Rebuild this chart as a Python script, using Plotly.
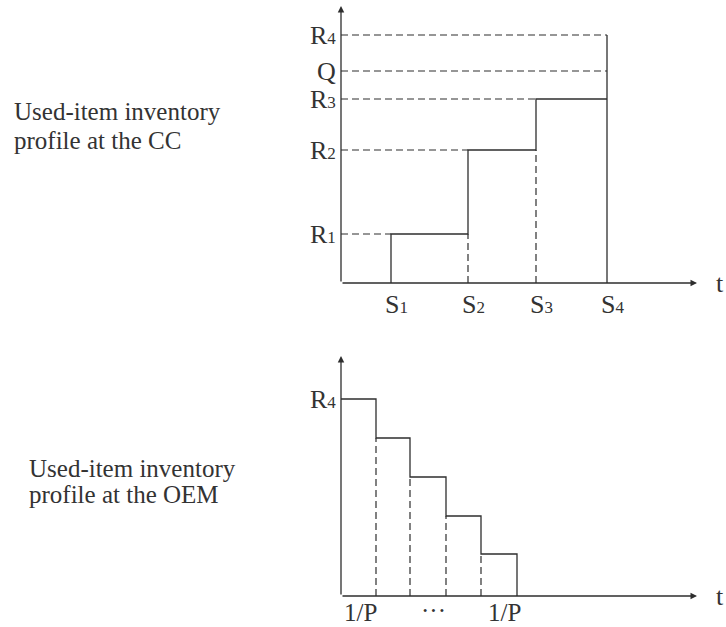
import plotly.graph_objects as go

# ---- data (conceptual units; 1 unit ~ 10 px) ----
S_labels = ["S1", "S2", "S3", "S4"]
S_times = [5.0, 12.7, 19.5, 26.6]            # collection epochs at the CC
R_labels = ["R1", "R2", "R3", "R4"]
R_levels = [4.9, 13.3, 18.4, 24.8]           # cumulative used items at the CC
Q_level = 21.2
top_x_max = 35.6
top_y_max = 27.7

oem_times = [0, 3.5, 6.9, 10.5, 14.0, 17.6]  # 1/P intervals
oem_levels = [19.7, 15.8, 11.9, 8.0, 4.2]    # OEM inventory in each interval
bot_x_max = 35.6
bot_y_max = 24.0
oem_tick_pos = [1.9, 9.2, 16.3]
oem_tick_text = ["1/P", "···", "1/P"]

cc_text = ["Used-item inventory", "profile at the CC"]
oem_text = ["Used-item inventory", "profile at the OEM"]

LINE = "#2e2e2e"
TXT = "#333333"
FONT = "Liberation Serif"
DASH = "7px,4px"

def sub(lbl):
    return f"{lbl[0]}<span style='font-size:17px'>{lbl[1:]}</span>"

fig = go.Figure()

# ---------- top panel (x, y) ----------
sx, sy = [], []
sx += [S_times[0], S_times[0]]; sy += [0, R_levels[0]]
for i in range(3):
    sx += [S_times[i + 1], S_times[i + 1]]
    sy += [R_levels[i], R_levels[i + 1] if i + 1 < 3 else R_levels[i]]
sx += [None, S_times[3], S_times[3]]; sy += [None, 0, R_levels[3]]
fig.add_trace(go.Scatter(x=sx, y=sy, mode="lines", line=dict(color=LINE, width=1.3),
                         xaxis="x", yaxis="y", hoverinfo="skip"))

dx, dy = [], []
for i in range(3):
    dx += [0, S_times[i], None]; dy += [R_levels[i], R_levels[i], None]
for lv in [Q_level, R_levels[3]]:
    dx += [0, S_times[3], None]; dy += [lv, lv, None]
for i in range(1, 3):
    dx += [S_times[i], S_times[i], None]; dy += [0, R_levels[i - 1], None]
fig.add_trace(go.Scatter(x=dx, y=dy, mode="lines", line=dict(color=LINE, width=1.2, dash=DASH),
                         xaxis="x", yaxis="y", hoverinfo="skip"))

# ---------- bottom panel (x2, y2) ----------
bx, by = [0], [oem_levels[0]]
for i, lv in enumerate(oem_levels):
    bx += [oem_times[i + 1]]; by += [lv]
    if i + 1 < len(oem_levels):
        bx += [oem_times[i + 1]]; by += [oem_levels[i + 1]]
bx += [oem_times[-1]]; by += [0]
fig.add_trace(go.Scatter(x=bx, y=by, mode="lines", line=dict(color=LINE, width=1.3),
                         xaxis="x2", yaxis="y2", hoverinfo="skip"))
bdx, bdy = [], []
for i in range(1, len(oem_levels)):
    bdx += [oem_times[i], oem_times[i], None]; bdy += [0, oem_levels[i], None]
fig.add_trace(go.Scatter(x=bdx, y=bdy, mode="lines", line=dict(color=LINE, width=1.2, dash=DASH),
                         xaxis="x2", yaxis="y2", hoverinfo="skip"))

ann = []
def arrow(xr, yr, x0, y0, x1, y1):
    ann.append(dict(x=x1, y=y1, ax=x0, ay=y0, xref=xr, yref=yr, axref=xr, ayref=yr,
                    text="", showarrow=True, arrowhead=2, arrowsize=1.0, arrowwidth=1.3,
                    arrowcolor=LINE, standoff=0, startstandoff=0))

arrow("x", "y", 0, 0, 0, top_y_max)
arrow("x", "y", 0, 0, top_x_max, 0)
arrow("x2", "y2", 0, 0, 0, bot_y_max)
arrow("x2", "y2", 0, 0, bot_x_max, 0)

tf = dict(family=FONT, size=25, color=TXT)
lf = dict(family=FONT, size=26, color=TXT)
bf = dict(family=FONT, size=25, color=TXT)
for lbl, lv in zip(R_labels + ["Q"], R_levels + [Q_level]):
    ann.append(dict(x=-0.3, y=lv, xref="x", yref="y", text=sub(lbl) if lbl != "Q" else "Q",
                    showarrow=False, xanchor="right", yanchor="middle", font=lf))
for lbl, t in zip(S_labels, S_times):
    ann.append(dict(x=t, y=-2.1, xref="x", yref="y", text=sub(lbl), xshift=5,
                    showarrow=False, xanchor="center", yanchor="middle", font=lf))
ann.append(dict(x=37.9, y=0, xref="x", yref="y", text="t", showarrow=False,
                xanchor="center", yanchor="middle", font=lf))

ann.append(dict(x=-0.3, y=oem_levels[0], xref="x2", yref="y2", text=sub(R_labels[3]),
                showarrow=False, xanchor="right", yanchor="middle", font=lf))
for p, t in zip(oem_tick_pos, oem_tick_text):
    ann.append(dict(x=p, y=-1.9, xref="x2", yref="y2", text=t, showarrow=False,
                    xanchor="center", yanchor="middle", font=bf, borderpad=0,
                    yshift=5 if t == "···" else 3))
ann.append(dict(x=37.9, y=0, xref="x2", yref="y2", text="t", showarrow=False,
                xanchor="center", yanchor="middle", font=lf))

W, H = 726, 627
for line, ypx in zip(cc_text, [112, 141]):
    ann.append(dict(x=12 / W, y=1 - ypx / H, xref="paper", yref="paper", text=line,
                    showarrow=False, xanchor="left", yanchor="middle", font=tf))
for line, ypx in zip(oem_text, [468, 494]):
    ann.append(dict(x=27 / W, y=1 - ypx / H, xref="paper", yref="paper", text=line,
                    showarrow=False, xanchor="left", yanchor="middle", font=tf))

ox = 341
top_origin_y, bot_origin_y = 283, 596
split = 330
hidden = dict(visible=False, showgrid=False, zeroline=False, fixedrange=True)
fig.update_layout(
    width=W, height=H, margin=dict(l=0, r=0, t=0, b=0),
    paper_bgcolor="white", plot_bgcolor="white", showlegend=False,
    xaxis=dict(domain=[0, 1], range=[-ox / 10, (W - ox) / 10], anchor="y", **hidden),
    yaxis=dict(domain=[(H - split) / H, 1], range=[-(split - top_origin_y) / 10, top_origin_y / 10],
               anchor="x", **hidden),
    xaxis2=dict(domain=[0, 1], range=[-ox / 10, (W - ox) / 10], anchor="y2", **hidden),
    yaxis2=dict(domain=[0, (H - split) / H], range=[-(H - bot_origin_y) / 10, (bot_origin_y - split) / 10],
                anchor="x2", **hidden),
    annotations=ann,
)
fig.write_html("out.html", config={"displayModeBar": False, "staticPlot": True},
               post_script="document.body.style.margin='0px';document.body.style.overflow='hidden';")
